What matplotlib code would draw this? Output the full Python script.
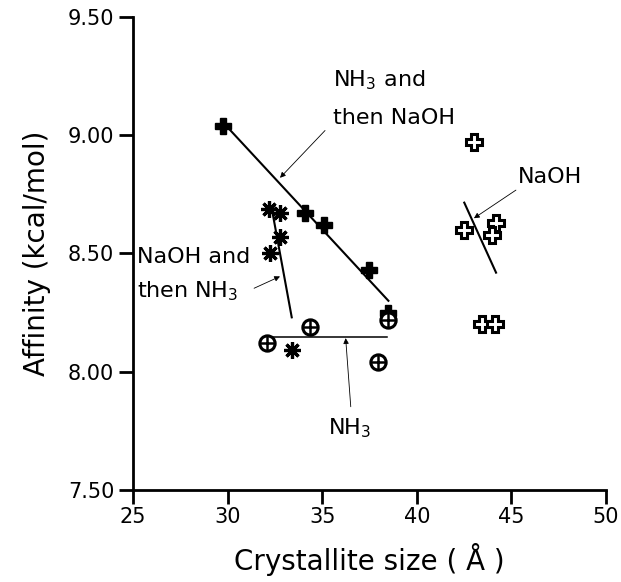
import numpy as np
import matplotlib
matplotlib.use("Agg")
from matplotlib import pyplot as plt

plt.rcParams['font.family'] = ['DejaVu Sans']
plt.rcParams['mathtext.default'] = 'regular'

# NH3 and then NaOH (filled crosses)
nh3_naoh_x = [29.74, 34.09, 35.1, 37.5, 38.5]
nh3_naoh_y = [9.04, 8.67, 8.62, 8.43, 8.25]
# NaOH and then NH3 (asterisks)
naoh_nh3_x = [32.2, 32.77, 32.77, 32.24, 33.39]
naoh_nh3_y = [8.69, 8.67, 8.57, 8.50, 8.09]
# NH3 (circled plus)
nh3_x = [32.1, 34.36, 38.5, 37.93]
nh3_y = [8.12, 8.19, 8.22, 8.04]
# NaOH (open crosses)
naoh_x = [43.02, 42.49, 44.17, 43.99, 43.43, 44.13]
naoh_y = [8.97, 8.60, 8.63, 8.58, 8.20, 8.20]

# trend lines as drawn in the figure (end points)
fit_nh3_naoh_x = [30.04, 38.5]
fit_nh3_naoh_y = [9.03, 8.30]
fit_naoh_nh3_x = [32.38, 33.39]
fit_naoh_nh3_y = [8.67, 8.23]
fit_nh3_x = [32.42, 38.44]
fit_nh3_y = [8.146, 8.146]
fit_naoh_x = [42.51, 44.19]
fit_naoh_y = [8.715, 8.419]

xticks = [25, 30, 35, 40, 45, 50]
yticks = [7.5, 8.0, 8.5, 9.0, 9.5]

fig = plt.figure(figsize=(6.21, 5.82), dpi=100)
ax = fig.add_axes([0.2142, 0.1581, 0.7616, 0.8127])

# lines
ax.plot(fit_nh3_naoh_x, fit_nh3_naoh_y, color='black', lw=1.5)
ax.plot(fit_naoh_nh3_x, fit_naoh_nh3_y, color='black', lw=1.5)
ax.plot(fit_nh3_x, fit_nh3_y, color='black', lw=1.1)
ax.plot(fit_naoh_x, fit_naoh_y, color='black', lw=1.5)

# points
ax.plot(nh3_naoh_x, nh3_naoh_y, 'P', ms=11, color='black', mec='black', ls='none')
ax.plot(naoh_nh3_x, naoh_nh3_y, marker=(8, 2, 0), ms=12, mew=2.3, color='black', ls='none')
ax.plot(nh3_x, nh3_y, 'o', ms=11, mfc='white', mec='black', mew=2.2, ls='none')
ax.plot(nh3_x, nh3_y, '+', ms=11, color='black', mew=1.8, ls='none')
ax.plot(naoh_x, naoh_y, 'P', ms=11.5, mfc='white', mec='black', mew=2.2, ls='none')

# annotations
arr = dict(arrowstyle='-|>', lw=0.6, color='black', mutation_scale=8, shrinkA=0, shrinkB=0)
fs = 16
ax.annotate('', xy=(32.77, 8.82), xytext=(35.15, 9.02), arrowprops=arr)
ax.text(35.57, 9.234, 'NH$_3$ and', fontsize=fs, va='center', ha='left')
ax.text(35.57, 9.073, 'then NaOH', fontsize=fs, va='center', ha='left')

ax.annotate('', xy=(43.02, 8.649), xytext=(45.24, 8.768), arrowprops=arr)
ax.text(45.35, 8.823, 'NaOH', fontsize=fs, va='center', ha='left')

ax.annotate('', xy=(32.77, 8.403), xytext=(31.4, 8.353), arrowprops=arr)
ax.text(25.2, 8.485, 'NaOH and', fontsize=fs, va='center', ha='left')
ax.text(25.2, 8.341, 'then NH$_3$', fontsize=fs, va='center', ha='left')

ax.annotate('', xy=(36.24, 8.142), xytext=(36.51, 7.852), arrowprops=arr)
ax.text(35.31, 7.762, 'NH$_3$', fontsize=fs, va='center', ha='left')

ax.set_xlim(25, 50)
ax.set_ylim(7.5, 9.5)
ax.set_xticks(xticks)
ax.set_yticks(yticks)
ax.set_xticklabels([str(t) for t in xticks])
ax.set_yticklabels(['%.2f' % t for t in yticks])
ax.tick_params(axis='both', labelsize=15, length=10, width=2, direction='out')
ax.tick_params(axis='x', pad=2)
ax.spines['top'].set_visible(False)
ax.spines['right'].set_visible(False)
ax.spines['left'].set_linewidth(2)
ax.spines['bottom'].set_linewidth(2)

ax.set_xlabel('Crystallite size ( \u00c5 )', fontsize=20, labelpad=12)
ax.set_ylabel('Affinity (kcal/mol)', fontsize=20, labelpad=12)

fig.savefig('out.png', dpi=100)
